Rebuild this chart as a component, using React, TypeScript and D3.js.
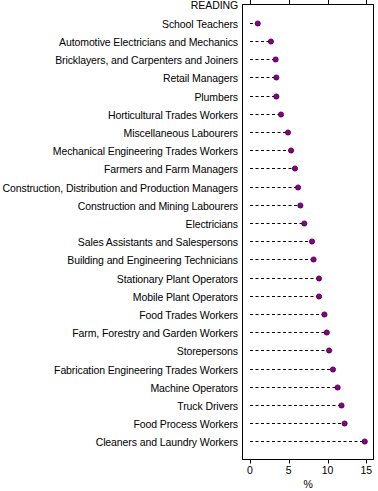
import React from "react";
import * as d3 from "d3";

const header = "READING";
const categories = [
  "School Teachers",
  "Automotive Electricians and Mechanics",
  "Bricklayers, and Carpenters and Joiners",
  "Retail Managers",
  "Plumbers",
  "Horticultural Trades Workers",
  "Miscellaneous Labourers",
  "Mechanical Engineering Trades Workers",
  "Farmers and Farm Managers",
  "Construction, Distribution and Production Managers",
  "Construction and Mining Labourers",
  "Electricians",
  "Sales Assistants and Salespersons",
  "Building and Engineering Technicians",
  "Stationary Plant Operators",
  "Mobile Plant Operators",
  "Food Trades Workers",
  "Farm, Forestry and Garden Workers",
  "Storepersons",
  "Fabrication Engineering Trades Workers",
  "Machine Operators",
  "Truck Drivers",
  "Food Process Workers",
  "Cleaners and Laundry Workers",
];
const values = [
  1.0, 2.7, 3.3, 3.4, 3.4, 4.0, 4.9, 5.3, 5.8, 6.2, 6.5, 7.0, 8.0, 8.2, 8.9,
  8.9, 9.6, 9.9, 10.2, 10.7, 11.3, 11.8, 12.2, 14.8,
];
const xTicks = [0, 5, 10, 15];
const xTitle = "%";

export default function App() {
  const W = 378;
  const H = 491;
  const left = 242.5;
  const right = 373.5;
  const top = 4.5;
  const bottom = 459.5;
  const x = d3.scaleLinear().domain([0, 15]).range([250, 366.3]);
  const y = d3
    .scalePoint<string>()
    .domain([header, ...categories, "__end__"])
    .range([top, bottom]);
  const font = "Liberation Sans, Arial, sans-serif";
  return (
    <svg
      width={W}
      height={H}
      style={{ position: "absolute", left: 0, top: 0, background: "#fff" }}
      fontFamily={font}
      fontSize={10.5}
    >
      <rect x={left} y={top} width={right - left} height={bottom - top} fill="none" stroke="#000" strokeWidth={1} />
      {xTicks.map((t) => (
        <g key={t}>
          <line x1={Math.round(x(t)) + 0.5} x2={Math.round(x(t)) + 0.5} y1={0} y2={top} stroke="#000" />
          <line x1={Math.round(x(t)) + 0.5} x2={Math.round(x(t)) + 0.5} y1={bottom} y2={bottom + 4} stroke="#000" />
          <text x={x(t)} y={474} textAnchor="middle" fill="#000">
            {t}
          </text>
        </g>
      ))}
      <text x={(x(0) + x(15)) / 2 - 0} y={488} textAnchor="middle" fill="#000">
        {xTitle}
      </text>
      <text x={238} y={(y(header) as number) + 4} textAnchor="end" fill="#000" letterSpacing={-0.1}>
        {header}
      </text>
      {categories.map((c, i) => {
        const cy = Math.round(y(c) as number) + 0.5;
        return (
          <g key={c}>
            <text x={238} y={cy + 4} textAnchor="end" fill="#000" letterSpacing={-0.1}>
              {c}
            </text>
            <line x1={x(0)} x2={x(values[i])} y1={cy} y2={cy} stroke="#000" strokeWidth={1} strokeDasharray="3,2.5" />
            <circle cx={x(values[i])} cy={cy} r={2.6} fill="#8B008B" stroke="#3a003a" strokeWidth={0.8} />
          </g>
        );
      })}
    </svg>
  );
}
